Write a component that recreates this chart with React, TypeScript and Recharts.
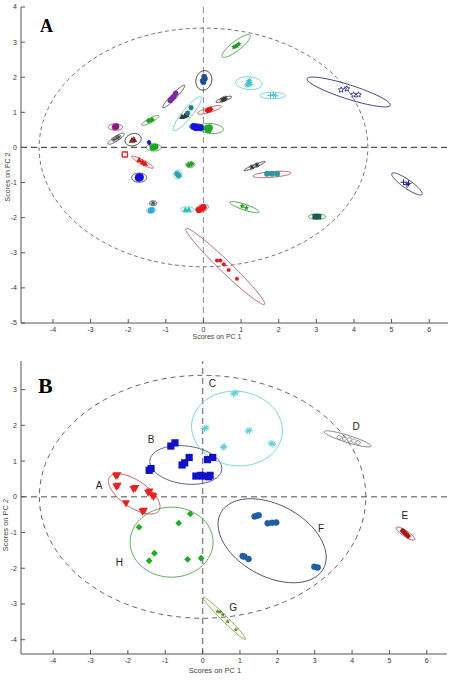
import React from 'react';
import { ScatterChart, Scatter, XAxis, YAxis, ReferenceLine } from 'recharts';

// ---------- ticks & domains ----------
const xTicks = [-4, -3, -2, -1, 0, 1, 2, 3, 4, 5, 6];
const yTicksA = [-5, -4, -3, -2, -1, 0, 1, 2, 3, 4];
const yTicksB = [-4, -3, -2, -1, 0, 1, 2, 3];
const xDomainA: [number, number] = [-4.85, 6.5];
const yDomainA: [number, number] = [-5, 4];
const xDomainB: [number, number] = [-4.86, 6.54];
const yDomainB: [number, number] = [-4.4, 3.8];

// Hotelling T2 95% limit (both panels)
const limitEllipse = [{ id: 'T2', x: 0, y: 0, a: 4.37, b: 3.4, deg: 0 }];

// ---------- Panel A : confidence ellipses per sample ----------
const ellipsesA = [
  { id: 'a1', x: 0.87, y: 2.89, a: 0.48, b: 0.13, deg: 40 },
  { id: 'a2', x: 0.01, y: 1.91, a: 0.28, b: 0.21, deg: 80 },
  { id: 'a3', x: 1.21, y: 1.83, a: 0.35, b: 0.18, deg: -5 },
  { id: 'a4', x: 1.84, y: 1.48, a: 0.34, b: 0.09, deg: 0 },
  { id: 'a5', x: 3.86, y: 1.58, a: 1.17, b: 0.2, deg: -19 },
  { id: 'a6', x: 0.54, y: 1.37, a: 0.22, b: 0.05, deg: 20 },
  { id: 'a7', x: -0.79, y: 1.45, a: 0.43, b: 0.07, deg: 48 },
  { id: 'a8', x: -0.43, y: 0.96, a: 0.6, b: 0.13, deg: 53 },
  { id: 'a9', x: 0.16, y: 1.07, a: 0.33, b: 0.07, deg: 18 },
  { id: 'a10', x: -1.41, y: 0.77, a: 0.26, b: 0.06, deg: 30 },
  { id: 'a11', x: -0.17, y: 0.58, a: 0.2, b: 0.09, deg: -5 },
  { id: 'a12', x: 0.2, y: 0.54, a: 0.33, b: 0.14, deg: -5 },
  { id: 'a13', x: -2.34, y: 0.58, a: 0.19, b: 0.09, deg: 0 },
  { id: 'a14', x: -2.32, y: 0.25, a: 0.26, b: 0.07, deg: 35 },
  { id: 'a15', x: -1.87, y: 0.22, a: 0.22, b: 0.17, deg: 20 },
  { id: 'a17', x: -1.32, y: 0.0, a: 0.2, b: 0.1, deg: 0 },
  { id: 'a18', x: -2.09, y: -0.2, a: 0.08, b: 0.07, deg: 0 },
  { id: 'a19', x: -1.62, y: -0.42, a: 0.33, b: 0.06, deg: -30 },
  { id: 'a20', x: -1.71, y: -0.86, a: 0.2, b: 0.13, deg: 0 },
  { id: 'a21', x: -0.35, y: -0.49, a: 0.12, b: 0.08, deg: 0 },
  { id: 'a22', x: -0.68, y: -0.77, a: 0.13, b: 0.11, deg: 70 },
  { id: 'a23', x: 1.36, y: -0.53, a: 0.31, b: 0.04, deg: 24 },
  { id: 'a24', x: 1.82, y: -0.77, a: 0.51, b: 0.08, deg: 5 },
  { id: 'a25', x: 5.41, y: -1.04, a: 0.5, b: 0.12, deg: -37 },
  { id: 'a26', x: -1.34, y: -1.59, a: 0.1, b: 0.07, deg: 0 },
  { id: 'a27', x: -1.39, y: -1.79, a: 0.13, b: 0.08, deg: 0 },
  { id: 'a28', x: -0.43, y: -1.77, a: 0.18, b: 0.08, deg: 0 },
  { id: 'a29', x: -0.04, y: -1.73, a: 0.18, b: 0.1, deg: 20 },
  { id: 'a30', x: 1.09, y: -1.7, a: 0.41, b: 0.08, deg: -20 },
  { id: 'a31', x: 3.02, y: -1.97, a: 0.23, b: 0.07, deg: 0 },
  { id: 'a32', x: 0.58, y: -3.39, a: 1.5, b: 0.16, deg: -46 },
];

// ---------- Panel A : scores ----------
const pointsA = [
  { id: 'a1', x: 0.81, y: 2.86 }, { id: 'a1', x: 0.89, y: 2.9 }, { id: 'a1', x: 0.94, y: 2.95 }, { id: 'a1', x: 0.86, y: 2.88 },
  { id: 'a2', x: 0.0, y: 1.86 }, { id: 'a2', x: 0.04, y: 1.96 }, { id: 'a2', x: 0.02, y: 2.02 }, { id: 'a2', x: -0.02, y: 1.9 },
  { id: 'a3', x: 1.2, y: 1.86 }, { id: 'a3', x: 1.24, y: 1.8 }, { id: 'a3', x: 1.16, y: 1.78 }, { id: 'a3', x: 1.22, y: 1.9 },
  { id: 'a4', x: 1.78, y: 1.48 }, { id: 'a4', x: 1.86, y: 1.5 }, { id: 'a4', x: 1.92, y: 1.47 },
  { id: 'a5', x: 3.66, y: 1.64 }, { id: 'a5', x: 3.81, y: 1.67 }, { id: 'a5', x: 3.99, y: 1.5 }, { id: 'a5', x: 4.12, y: 1.5 },
  { id: 'a6', x: 0.5, y: 1.35 }, { id: 'a6', x: 0.58, y: 1.4 }, { id: 'a6', x: 0.54, y: 1.37 },
  { id: 'a7', x: -0.88, y: 1.34 }, { id: 'a7', x: -0.79, y: 1.44 }, { id: 'a7', x: -0.74, y: 1.54 }, { id: 'a7', x: -0.83, y: 1.4 },
  { id: 'a8', x: -0.57, y: 0.88 }, { id: 'a8', x: -0.5, y: 0.9 }, { id: 'a8', x: -0.45, y: 0.93 },
  { id: 'a8t', x: -0.42, y: 0.98 }, { id: 'a8t', x: -0.33, y: 1.13 },
  { id: 'a9', x: 0.1, y: 1.05 }, { id: 'a9', x: 0.19, y: 1.09 }, { id: 'a9', x: 0.15, y: 1.07 },
  { id: 'a10', x: -1.46, y: 0.76 }, { id: 'a10', x: -1.37, y: 0.79 },
  { id: 'a11', x: -0.26, y: 0.6 }, { id: 'a11', x: -0.17, y: 0.58 }, { id: 'a11', x: -0.08, y: 0.56 }, { id: 'a11', x: -0.2, y: 0.56 },
  { id: 'a12', x: 0.1, y: 0.55 }, { id: 'a12', x: 0.16, y: 0.56 }, { id: 'a12', x: 0.13, y: 0.5 },
  { id: 'a13', x: -2.35, y: 0.58 }, { id: 'a13', x: -2.32, y: 0.6 },
  { id: 'a14', x: -2.38, y: 0.22 }, { id: 'a14', x: -2.3, y: 0.27 }, { id: 'a14', x: -2.25, y: 0.3 },
  { id: 'a15', x: -1.9, y: 0.21 }, { id: 'a15', x: -1.85, y: 0.23 },
  { id: 'a16', x: -1.45, y: 0.16 }, { id: 'a16', x: -1.44, y: 0.12 },
  { id: 'a17', x: -1.35, y: 0.0 }, { id: 'a17', x: -1.28, y: 0.02 },
  { id: 'a18', x: -2.09, y: -0.2 },
  { id: 'a19', x: -1.71, y: -0.35 }, { id: 'a19', x: -1.62, y: -0.41 }, { id: 'a19', x: -1.55, y: -0.45 },
  { id: 'a20', x: -1.72, y: -0.86 }, { id: 'a20', x: -1.69, y: -0.85 },
  { id: 'a21', x: -0.39, y: -0.5 }, { id: 'a21', x: -0.32, y: -0.47 },
  { id: 'a22', x: -0.7, y: -0.75 }, { id: 'a22', x: -0.66, y: -0.8 },
  { id: 'a23', x: 1.29, y: -0.56 }, { id: 'a23', x: 1.42, y: -0.5 },
  { id: 'a24', x: 1.69, y: -0.75 }, { id: 'a24', x: 1.82, y: -0.75 }, { id: 'a24', x: 1.96, y: -0.75 },
  { id: 'a25', x: 5.32, y: -0.99 }, { id: 'a25', x: 5.41, y: -1.06 }, { id: 'a25', x: 5.45, y: -1.02 },
  { id: 'a26', x: -1.34, y: -1.59 },
  { id: 'a27', x: -1.41, y: -1.8 }, { id: 'a27', x: -1.37, y: -1.78 },
  { id: 'a28', x: -0.48, y: -1.77 }, { id: 'a28', x: -0.39, y: -1.76 },
  { id: 'a29', x: -0.12, y: -1.78 }, { id: 'a29', x: -0.04, y: -1.73 }, { id: 'a29', x: 0.0, y: -1.7 },
  { id: 'a30', x: 1.03, y: -1.67 }, { id: 'a30', x: 1.14, y: -1.72 },
  { id: 'a31', x: 2.97, y: -1.97 }, { id: 'a31', x: 3.06, y: -1.97 },
  { id: 'a32', x: 0.36, y: -3.22 }, { id: 'a32', x: 0.45, y: -3.22 }, { id: 'a32', x: 0.54, y: -3.33 }, { id: 'a32', x: 0.67, y: -3.49 }, { id: 'a32', x: 0.89, y: -3.74 },
];

// ---------- Panel B : class ellipses ----------
const ellipsesB = [
  { id: 'A', x: -1.83, y: 0.08, a: 0.81, b: 0.37, deg: -36 },
  { id: 'B', x: -0.45, y: 0.89, a: 0.97, b: 0.53, deg: -8 },
  { id: 'C', x: 0.92, y: 1.91, a: 1.22, b: 1.04, deg: -10 },
  { id: 'D', x: 3.88, y: 1.62, a: 0.66, b: 0.1, deg: -18 },
  { id: 'E', x: 5.43, y: -1.03, a: 0.3, b: 0.08, deg: -35 },
  { id: 'F', x: 1.86, y: -1.23, a: 1.58, b: 0.99, deg: -31 },
  { id: 'G', x: 0.58, y: -3.4, a: 0.82, b: 0.08, deg: -46 },
  { id: 'H', x: -0.83, y: -1.27, a: 1.11, b: 0.98, deg: 0 },
];

// ---------- Panel B : scores ----------
const pointsB = [
  { id: 'A', x: -2.32, y: 0.58 }, { id: 'A', x: -2.28, y: 0.6 }, { id: 'A', x: -2.31, y: 0.28 }, { id: 'A', x: -2.27, y: 0.3 },
  { id: 'A', x: -1.85, y: 0.21 }, { id: 'A', x: -1.8, y: 0.24 }, { id: 'A', x: -1.46, y: 0.11 }, { id: 'A', x: -1.42, y: 0.14 },
  { id: 'A', x: -1.31, y: 0.0 }, { id: 'A', x: -1.35, y: 0.03 }, { id: 'A', x: -2.05, y: -0.19 }, { id: 'A', x: -1.61, y: -0.42 }, { id: 'A', x: -1.57, y: -0.4 },
  { id: 'B', x: -1.38, y: 0.79 }, { id: 'B', x: -1.43, y: 0.74 }, { id: 'B', x: -0.85, y: 1.42 }, { id: 'B', x: -0.74, y: 1.51 },
  { id: 'B', x: -0.55, y: 0.89 }, { id: 'B', x: -0.48, y: 0.95 }, { id: 'B', x: -0.36, y: 1.1 }, { id: 'B', x: -0.18, y: 0.58 },
  { id: 'B', x: -0.05, y: 0.6 }, { id: 'B', x: 0.0, y: 0.58 }, { id: 'B', x: 0.16, y: 0.56 }, { id: 'B', x: 0.13, y: 1.04 },
  { id: 'B', x: 0.27, y: 1.1 }, { id: 'B', x: 0.2, y: 0.6 },
  { id: 'C', x: 0.89, y: 2.91 }, { id: 'C', x: 0.82, y: 2.88 }, { id: 'C', x: 0.05, y: 1.91 }, { id: 'C', x: 0.1, y: 1.93 },
  { id: 'C', x: 1.21, y: 1.84 }, { id: 'C', x: 1.26, y: 1.86 }, { id: 'C', x: 1.88, y: 1.47 }, { id: 'C', x: 1.83, y: 1.5 },
  { id: 'C', x: 0.55, y: 1.38 }, { id: 'C', x: 0.58, y: 1.41 },
  { id: 'D', x: 3.66, y: 1.66 }, { id: 'D', x: 3.8, y: 1.63 }, { id: 'D', x: 3.93, y: 1.6 }, { id: 'D', x: 4.05, y: 1.56 }, { id: 'D', x: 4.16, y: 1.51 },
  { id: 'E', x: 5.35, y: -0.95 }, { id: 'E', x: 5.42, y: -1.02 }, { id: 'E', x: 5.5, y: -1.1 }, { id: 'E', x: 5.45, y: -1.05 }, { id: 'E', x: 5.38, y: -0.98 },
  { id: 'F', x: 1.39, y: -0.55 }, { id: 'F', x: 1.5, y: -0.52 }, { id: 'F', x: 1.45, y: -0.53 },
  { id: 'F', x: 1.74, y: -0.74 }, { id: 'F', x: 1.86, y: -0.73 }, { id: 'F', x: 1.97, y: -0.72 },
  { id: 'F', x: 1.07, y: -1.66 }, { id: 'F', x: 1.23, y: -1.74 }, { id: 'F', x: 1.12, y: -1.68 },
  { id: 'F', x: 2.99, y: -1.96 }, { id: 'F', x: 3.08, y: -1.98 },
  { id: 'G', x: 0.4, y: -3.21 }, { id: 'G', x: 0.47, y: -3.22 }, { id: 'G', x: 0.54, y: -3.3 }, { id: 'G', x: 0.67, y: -3.49 }, { id: 'G', x: 0.89, y: -3.72 },
  { id: 'H', x: -1.7, y: -0.85 }, { id: 'H', x: -0.64, y: -0.74 }, { id: 'H', x: -0.33, y: -0.48 }, { id: 'H', x: -1.29, y: -1.58 },
  { id: 'H', x: -1.43, y: -1.79 }, { id: 'H', x: -0.4, y: -1.75 }, { id: 'H', x: -0.04, y: -1.72 },
];

// group letters of panel B (placed in score space)
const groupLabelsB = [
  { name: 'A', x: -2.77, y: 0.31 },
  { name: 'B', x: -1.38, y: 1.61 },
  { name: 'C', x: 0.26, y: 3.18 },
  { name: 'D', x: 4.11, y: 1.97 },
  { name: 'E', x: 5.41, y: -0.51 },
  { name: 'F', x: 3.17, y: -0.9 },
  { name: 'G', x: 0.82, y: -3.11 },
  { name: 'H', x: -2.23, y: -1.84 },
];

// ---------- styles (kept apart from the data) ----------
type Sty = { m: string; fill: string; ring: string; s: number };
const styleA: Record<string, Sty> = {
  a1: { m: 'star', fill: '#1f9a2a', ring: '#3a9a3a', s: 3 },
  a2: { m: 'circle', fill: '#1f4f8f', ring: '#222222', s: 2.6 },
  a3: { m: 'asterisk', fill: '#40c0cc', ring: '#60cccc', s: 3 },
  a4: { m: 'plus', fill: '#40c0cc', ring: '#60cccc', s: 3 },
  a5: { m: 'openstar', fill: '#1a1a80', ring: '#303070', s: 3 },
  a6: { m: 'asterisk', fill: '#333333', ring: '#333333', s: 2.6 },
  a7: { m: 'circle', fill: '#7a2aa0', ring: '#444444', s: 2.6 },
  a8: { m: 'tri', fill: '#3a3a3a', ring: '#60cccc', s: 3 },
  a8t: { m: 'circle', fill: '#1f7f7f', ring: '#60cccc', s: 2.4 },
  a9: { m: 'diamond', fill: '#e01010', ring: '#d04040', s: 3 },
  a10: { m: 'diamond', fill: '#22a022', ring: '#3a9a3a', s: 3 },
  a11: { m: 'circle', fill: '#1515e0', ring: '#222244', s: 3.2 },
  a12: { m: 'circle', fill: '#22aa22', ring: '#3a9a3a', s: 3.2 },
  a13: { m: 'circle', fill: '#8a1a8a', ring: '#c03050', s: 3 },
  a14: { m: 'asterisk', fill: '#555555', ring: '#555555', s: 2.8 },
  a15: { m: 'tri', fill: '#7a2a20', ring: '#222222', s: 3.4 },
  a16: { m: 'diamond', fill: '#2020c0', ring: '#2020c0', s: 2.4 },
  a17: { m: 'circle', fill: '#22a022', ring: '#3a9a3a', s: 3 },
  a18: { m: 'opensq', fill: '#e03030', ring: '#e03030', s: 2.6 },
  a19: { m: 'tri', fill: '#e01a1a', ring: '#d04040', s: 3 },
  a20: { m: 'circle', fill: '#1010e0', ring: '#333344', s: 3.8 },
  a21: { m: 'diamond', fill: '#22a022', ring: '#3a9a3a', s: 3 },
  a22: { m: 'circle', fill: '#30a0b0', ring: '#60cccc', s: 2.6 },
  a23: { m: 'asterisk', fill: '#333333', ring: '#333333', s: 2.6 },
  a24: { m: 'circle', fill: '#2a9a9a', ring: '#c05060', s: 2.8 },
  a25: { m: 'plus', fill: '#1a1a80', ring: '#303070', s: 3 },
  a26: { m: 'asterisk', fill: '#444444', ring: '#444444', s: 2.6 },
  a27: { m: 'circle', fill: '#30a8d8', ring: '#60cccc', s: 2.6 },
  a28: { m: 'tri', fill: '#30c0c0', ring: '#60cccc', s: 3 },
  a29: { m: 'circle', fill: '#e01a1a', ring: '#b06060', s: 3 },
  a30: { m: 'star', fill: '#22a022', ring: '#3a9a3a', s: 3 },
  a31: { m: 'square', fill: '#1a5a5a', ring: '#22a022', s: 2.8 },
  a32: { m: 'circle', fill: '#d02020', ring: '#b06060', s: 1.8 },
};
const styleB: Record<string, Sty> = {
  A: { m: 'tridown', fill: '#e8231f', ring: '#c05050', s: 4 },
  B: { m: 'square', fill: '#1010c8', ring: '#4a4a80', s: 3.6 },
  C: { m: 'asterisk', fill: '#60d0d8', ring: '#70d0d0', s: 3.4 },
  D: { m: 'opendiamond', fill: '#777777', ring: '#777777', s: 2.6 },
  E: { m: 'diamond', fill: '#b01010', ring: '#b04040', s: 3 },
  F: { m: 'circle', fill: '#1f5f9f', ring: '#404060', s: 3 },
  G: { m: 'star', fill: '#6b8e23', ring: '#7aa040', s: 2.6 },
  H: { m: 'diamond', fill: '#22aa22', ring: '#50a050', s: 3.4 },
};

const FONT = 'Liberation Sans, Arial, sans-serif';

const LAYOUT_A = { width: 453, height: 340, top: 7, right: 5, left: 21, bottom: 17 };
const LAYOUT_B = { width: 453, height: 343, top: 21, right: 6, left: 21, bottom: 29 };

function ellipsePath(cx: number, cy: number, a: number, b: number, deg: number, kx: number, ky: number) {
  const th = (deg * Math.PI) / 180;
  const c = Math.cos(th);
  const s = Math.sin(th);
  let d = '';
  for (let i = 0; i <= 90; i++) {
    const t = (i / 90) * 2 * Math.PI;
    const ex = a * Math.cos(t);
    const ey = b * Math.sin(t);
    const px = cx + (ex * c - ey * s) * kx;
    const py = cy - (ex * s + ey * c) * ky;
    d += (i ? 'L' : 'M') + px.toFixed(2) + ',' + py.toFixed(2);
  }
  return d + 'Z';
}

function Marker({ cx, cy, m, fill, s }: { cx: number; cy: number; m: string; fill: string; s: number }) {
  if (cx == null || cy == null) return null;
  switch (m) {
    case 'circle':
      return <circle cx={cx} cy={cy} r={s} fill={fill} stroke={fill} strokeWidth={0.5} />;
    case 'tri':
      return <polygon points={`${cx},${cy - s} ${cx - s},${cy + s * 0.8} ${cx + s},${cy + s * 0.8}`} fill={fill} />;
    case 'tridown':
      return <polygon points={`${cx - s},${cy - s * 0.8} ${cx + s},${cy - s * 0.8} ${cx},${cy + s}`} fill={fill} />;
    case 'square':
      return <rect x={cx - s} y={cy - s} width={2 * s} height={2 * s} fill={fill} />;
    case 'opensq':
      return <rect x={cx - s} y={cy - s} width={2 * s} height={2 * s} fill="none" stroke={fill} strokeWidth={1.2} />;
    case 'diamond':
      return <polygon points={`${cx},${cy - s} ${cx + s},${cy} ${cx},${cy + s} ${cx - s},${cy}`} fill={fill} />;
    case 'opendiamond':
      return <polygon points={`${cx},${cy - s} ${cx + s},${cy} ${cx},${cy + s} ${cx - s},${cy}`} fill="none" stroke={fill} strokeWidth={0.8} />;
    case 'plus':
      return (
        <g stroke={fill} strokeWidth={1}>
          <line x1={cx - s} y1={cy} x2={cx + s} y2={cy} />
          <line x1={cx} y1={cy - s} x2={cx} y2={cy + s} />
        </g>
      );
    case 'asterisk':
      return (
        <g stroke={fill} strokeWidth={1}>
          <line x1={cx - s} y1={cy} x2={cx + s} y2={cy} />
          <line x1={cx} y1={cy - s} x2={cx} y2={cy + s} />
          <line x1={cx - s * 0.7} y1={cy - s * 0.7} x2={cx + s * 0.7} y2={cy + s * 0.7} />
          <line x1={cx - s * 0.7} y1={cy + s * 0.7} x2={cx + s * 0.7} y2={cy - s * 0.7} />
        </g>
      );
    case 'star':
    case 'openstar': {
      const pts: string[] = [];
      for (let i = 0; i < 10; i++) {
        const r = i % 2 === 0 ? s : s * 0.45;
        const ang = -Math.PI / 2 + (i * Math.PI) / 5;
        pts.push(`${(cx + r * Math.cos(ang)).toFixed(2)},${(cy + r * Math.sin(ang)).toFixed(2)}`);
      }
      return m === 'star' ? (
        <polygon points={pts.join(' ')} fill={fill} />
      ) : (
        <polygon points={pts.join(' ')} fill="none" stroke={fill} strokeWidth={0.8} />
      );
    }
    default:
      return <circle cx={cx} cy={cy} r={s} fill={fill} />;
  }
}

type Panel = {
  layout: typeof LAYOUT_A;
  xDomain: [number, number];
  yDomain: [number, number];
  yTicks: number[];
  ellipses: { id: string; x: number; y: number; a: number; b: number; deg: number }[];
  points: { id: string; x: number; y: number }[];
  styles: Record<string, Sty>;
  labels?: { name: string; x: number; y: number }[];
  limitDash: string;
  limitColor: string;
  vColor: string;
  hColor: string;
  crossWidth: number;
};

function ScorePlot(p: Panel) {
  const L = p.layout;
  const kx = (L.width - L.left - L.right) / (p.xDomain[1] - p.xDomain[0]);
  const ky = (L.height - L.top - L.bottom) / (p.yDomain[1] - p.yDomain[0]);
  const ids = Object.keys(p.styles);
  const axisColor = '#555';
  const tickStyle = { fontSize: 7, fill: '#333', fontFamily: FONT };
  return (
    <ScatterChart
      width={L.width}
      height={L.height}
      margin={{ top: L.top, right: L.right, bottom: 0, left: 0 }}
    >
      <XAxis
        xAxisId="b"
        type="number"
        dataKey="x"
        domain={p.xDomain}
        ticks={xTicks}
        allowDataOverflow
        height={L.bottom}
        tickSize={-4}
        tickMargin={8}
        tick={tickStyle}
        stroke={axisColor}
        interval={0}
      />
      <XAxis
        xAxisId="t"
        orientation="top"
        type="number"
        dataKey="x"
        domain={p.xDomain}
        ticks={xTicks}
        allowDataOverflow
        height={0}
        tickSize={-4}
        tickFormatter={() => ''}
        stroke={axisColor}
        interval={0}
      />
      <YAxis
        yAxisId="l"
        type="number"
        dataKey="y"
        domain={p.yDomain}
        ticks={p.yTicks}
        allowDataOverflow
        width={L.left}
        tickSize={-4}
        tickMargin={8}
        tick={tickStyle}
        stroke={axisColor}
        interval={0}
      />
      <YAxis
        yAxisId="r"
        orientation="right"
        type="number"
        dataKey="y"
        domain={p.yDomain}
        ticks={p.yTicks}
        allowDataOverflow
        width={0}
        tickSize={-4}
        tickFormatter={() => ''}
        stroke={axisColor}
        interval={0}
      />
      <ReferenceLine xAxisId="b" yAxisId="l" x={0} stroke={p.vColor} strokeDasharray="6 4" strokeWidth={p.crossWidth} />
      <ReferenceLine xAxisId="b" yAxisId="l" y={0} stroke={p.hColor} strokeDasharray="6 4" strokeWidth={p.crossWidth} />
      <Scatter
        xAxisId="b"
        yAxisId="l"
        data={limitEllipse}
        isAnimationActive={false}
        shape={(sp: any) => (
          <path
            d={ellipsePath(sp.cx, sp.cy, sp.payload.a, sp.payload.b, sp.payload.deg, kx, ky)}
            fill="none"
            stroke={p.limitColor}
            strokeWidth={0.9}
            strokeDasharray={p.limitDash}
          />
        )}
      />
      <Scatter
        xAxisId="b"
        yAxisId="l"
        data={p.ellipses}
        isAnimationActive={false}
        shape={(sp: any) => (
          <path
            d={ellipsePath(sp.cx, sp.cy, sp.payload.a, sp.payload.b, sp.payload.deg, kx, ky)}
            fill="none"
            stroke={p.styles[sp.payload.id]?.ring || '#444'}
            strokeWidth={0.9}
          />
        )}
      />
      {ids.map((id) => (
        <Scatter
          key={id}
          xAxisId="b"
          yAxisId="l"
          data={p.points.filter((d) => d.id === id)}
          isAnimationActive={false}
          shape={(sp: any) => (
            <Marker cx={sp.cx} cy={sp.cy} m={p.styles[id].m} fill={p.styles[id].fill} s={p.styles[id].s} />
          )}
        />
      ))}
      {p.labels ? (
        <Scatter
          xAxisId="b"
          yAxisId="l"
          data={p.labels}
          isAnimationActive={false}
          shape={(sp: any) => (
            <text
              x={sp.cx}
              y={sp.cy}
              textAnchor="middle"
              dominantBaseline="central"
              fontSize={10}
              fontFamily={FONT}
              fill="#222"
            >
              {sp.payload.name}
            </text>
          )}
        />
      ) : null}
    </ScatterChart>
  );
}

export default function App() {
  return (
    <div style={{ position: 'absolute', left: 0, top: 0, width: 453, height: 683, background: '#fff', overflow: 'hidden' }}>
      <div style={{ position: 'absolute', left: 0, top: 0 }}>
        <ScorePlot
          layout={LAYOUT_A}
          xDomain={xDomainA}
          yDomain={yDomainA}
          yTicks={yTicksA}
          ellipses={ellipsesA}
          points={pointsA}
          styles={styleA}
          limitDash="4 3"
          limitColor="#666"
          vColor="#999"
          hColor="#555"
          crossWidth={1.2}
        />
      </div>
      <div style={{ position: 'absolute', left: 0, top: 340 }}>
        <ScorePlot
          layout={LAYOUT_B}
          xDomain={xDomainB}
          yDomain={yDomainB}
          yTicks={yTicksB}
          ellipses={ellipsesB}
          points={pointsB}
          styles={styleB}
          labels={groupLabelsB}
          limitDash="5 4"
          limitColor="#555"
          vColor="#888"
          hColor="#888"
          crossWidth={1.5}
        />
      </div>
      <svg width={453} height={683} style={{ position: 'absolute', left: 0, top: 0, pointerEvents: 'none' }}>
        <text x={40} y={32} fontSize={18} fontWeight="bold" fontFamily="Liberation Serif, Times New Roman, serif" fill="#000">A</text>
        <text x={38} y={393} fontSize={22} fontWeight="bold" fontFamily="Liberation Serif, Times New Roman, serif" fill="#000">B</text>
        <text x={217} y={339} fontSize={7} textAnchor="middle" fontFamily={FONT} fill="#444">Scores on PC 1</text>
        <text x={215} y={673} fontSize={7.5} textAnchor="middle" fontFamily={FONT} fill="#444">Scores on PC 1</text>
        <text x={7} y={177} fontSize={7} textAnchor="middle" dominantBaseline="central" fontFamily={FONT} fill="#444" transform="rotate(-90 7 177)">Scores on PC 2</text>
        <text x={5} y={525} fontSize={7.5} textAnchor="middle" dominantBaseline="central" fontFamily={FONT} fill="#444" transform="rotate(-90 5 525)">Scores on PC 2</text>
      </svg>
    </div>
  );
}
